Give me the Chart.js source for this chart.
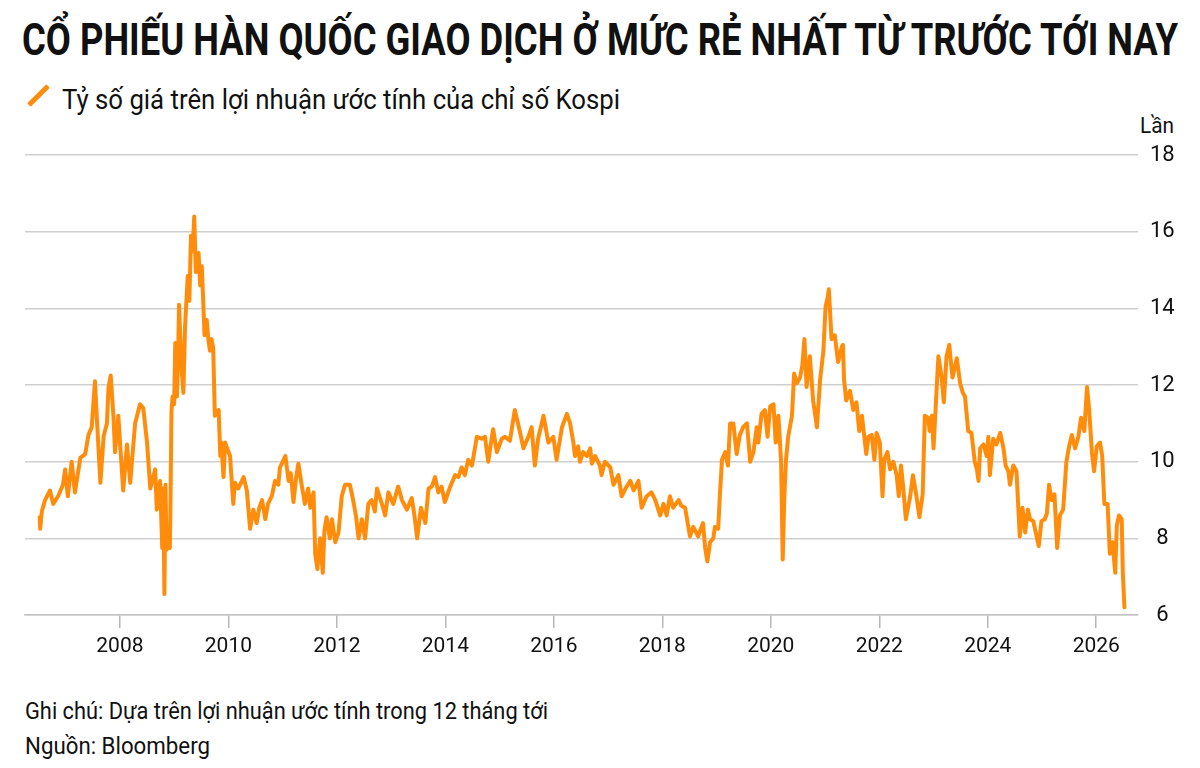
<!DOCTYPE html>
<html lang="vi">
<head>
<meta charset="utf-8">
<title>Kospi P/E</title>
<script src="https://cdn.jsdelivr.net/npm/chart.js@4.4.1/dist/chart.umd.min.js"></script>
<style>
  html, body { margin: 0; padding: 0; background: #fff; }
  body { width: 1200px; height: 768px; position: relative; overflow: hidden; font-family: Roboto, "Liberation Sans", sans-serif; color: #111; }
  .fit { position: absolute; white-space: nowrap; transform-origin: 0 0; line-height: 1; }
  #title { left: 22px; top: 18px; font-size: 44px; font-weight: 700; }
  #legend-text { left: 62px; top: 87px; font-size: 27px; }
  #legend-icon { position: absolute; left: 25px; top: 93px; width: 27px; height: 5px; background: #ff8c0a; transform: rotate(-45deg); border-radius: 1px; }
  #unit { left: 1140px; top: 115px; font-size: 22px; }
  #note { left: 25px; top: 700px; font-size: 23px; }
  #source { left: 25px; top: 735px; font-size: 23px; }
  #chart-wrap { position: absolute; left: 0; top: 130px; width: 1200px; height: 550px; }
</style>
</head>
<body>
<div id="title" class="fit" data-width="1156">CỔ PHIẾU HÀN QUỐC GIAO DỊCH Ở MỨC RẺ NHẤT TỪ TRƯỚC TỚI NAY</div>
<div id="legend-icon"></div>
<div id="legend-text" class="fit" data-width="558">Tỷ số giá trên lợi nhuận ước tính của chỉ số Kospi</div>
<div id="unit" class="fit" data-width="34">Lần</div>
<div id="chart-wrap"><canvas id="pe-chart" width="1200" height="550"></canvas></div>
<div id="note" class="fit" data-width="523">Ghi chú: Dựa trên lợi nhuận ước tính trong 12 tháng tới</div>
<div id="source" class="fit" data-width="185">Nguồn: Bloomberg</div>
<script>
// decimal years
const years = [
  2006.52, 2006.53, 2006.56, 2006.62, 2006.71, 2006.77, 2006.86, 2006.95, 2006.99, 2007.04,
  2007.11, 2007.17, 2007.27, 2007.36, 2007.42, 2007.48, 2007.54, 2007.58, 2007.64, 2007.70,
  2007.76, 2007.79, 2007.83, 2007.88, 2007.91, 2007.97, 2008.06, 2008.13, 2008.19, 2008.28,
  2008.37, 2008.43, 2008.50, 2008.56, 2008.65, 2008.68, 2008.74, 2008.78, 2008.80, 2008.82,
  2008.84, 2008.86, 2008.89, 2008.92, 2008.93, 2008.95, 2008.97, 2009.00, 2009.02, 2009.05,
  2009.07, 2009.09, 2009.13, 2009.17, 2009.20, 2009.25, 2009.28, 2009.31, 2009.34, 2009.37,
  2009.40, 2009.45, 2009.48, 2009.51, 2009.56, 2009.60, 2009.63, 2009.66, 2009.69, 2009.72,
  2009.75, 2009.82, 2009.85, 2009.87, 2009.91, 2009.94, 2009.99, 2010.03, 2010.09, 2010.12,
  2010.18, 2010.25, 2010.28, 2010.34, 2010.40, 2010.46, 2010.52, 2010.57, 2010.62, 2010.68,
  2010.73, 2010.80, 2010.86, 2010.92, 2010.95, 2011.05, 2011.11, 2011.15, 2011.20, 2011.25,
  2011.29, 2011.35, 2011.41, 2011.47, 2011.51, 2011.57, 2011.60, 2011.64, 2011.69, 2011.74,
  2011.77, 2011.81, 2011.87, 2011.91, 2011.97, 2012.03, 2012.09, 2012.15, 2012.24, 2012.30,
  2012.35, 2012.40, 2012.46, 2012.52, 2012.58, 2012.64, 2012.70, 2012.74, 2012.83, 2012.89,
  2012.95, 2013.04, 2013.13, 2013.20, 2013.29, 2013.38, 2013.43, 2013.48, 2013.55, 2013.63,
  2013.69, 2013.75, 2013.81, 2013.87, 2013.93, 2013.99, 2014.09, 2014.18, 2014.24, 2014.30,
  2014.36, 2014.42, 2014.49, 2014.58, 2014.67, 2014.73, 2014.79, 2014.88, 2014.95, 2015.04,
  2015.10, 2015.19, 2015.28, 2015.38, 2015.44, 2015.53, 2015.59, 2015.65, 2015.71, 2015.81,
  2015.90, 2015.99, 2016.05, 2016.15, 2016.24, 2016.30, 2016.36, 2016.39, 2016.45, 2016.48,
  2016.54, 2016.61, 2016.67, 2016.70, 2016.76, 2016.85, 2016.88, 2016.94, 2017.04, 2017.10,
  2017.19, 2017.25, 2017.34, 2017.41, 2017.47, 2017.56, 2017.62, 2017.71, 2017.80, 2017.87,
  2017.96, 2018.02, 2018.08, 2018.14, 2018.20, 2018.30, 2018.35, 2018.42, 2018.51, 2018.57,
  2018.66, 2018.75, 2018.79, 2018.83, 2018.88, 2018.94, 2018.97, 2019.03, 2019.06, 2019.10,
  2019.16, 2019.21, 2019.25, 2019.31, 2019.37, 2019.43, 2019.49, 2019.56, 2019.62, 2019.68,
  2019.74, 2019.77, 2019.83, 2019.89, 2019.94, 2019.99, 2020.05, 2020.09, 2020.14, 2020.19,
  2020.22, 2020.25, 2020.28, 2020.32, 2020.39, 2020.43, 2020.48, 2020.54, 2020.58, 2020.62,
  2020.66, 2020.72, 2020.78, 2020.85, 2020.91, 2020.97, 2021.01, 2021.05, 2021.07, 2021.12,
  2021.18, 2021.24, 2021.31, 2021.33, 2021.35, 2021.39, 2021.46, 2021.52, 2021.58, 2021.63,
  2021.68, 2021.76, 2021.80, 2021.86, 2021.91, 2021.95, 2022.01, 2022.06, 2022.09, 2022.15,
  2022.20, 2022.26, 2022.32, 2022.36, 2022.40, 2022.44, 2022.49, 2022.57, 2022.62, 2022.68,
  2022.74, 2022.80, 2022.84, 2022.90, 2022.93, 2022.97, 2023.00, 2023.05, 2023.09, 2023.15,
  2023.19, 2023.24, 2023.29, 2023.35, 2023.43, 2023.49, 2023.54, 2023.58, 2023.64, 2023.70,
  2023.76, 2023.80, 2023.83, 2023.86, 2023.92, 2023.98, 2024.01, 2024.04, 2024.10, 2024.16,
  2024.23, 2024.29, 2024.33, 2024.38, 2024.41, 2024.47, 2024.53, 2024.56, 2024.59, 2024.64,
  2024.69, 2024.74, 2024.78, 2024.84, 2024.90, 2024.94, 2024.99, 2025.05, 2025.09, 2025.13,
  2025.18, 2025.23, 2025.28, 2025.33, 2025.39, 2025.45, 2025.50, 2025.55, 2025.61, 2025.67,
  2025.72, 2025.78, 2025.83, 2025.87, 2025.92, 2025.96, 2026.01, 2026.07, 2026.11, 2026.15,
  2026.21, 2026.25, 2026.30, 2026.35, 2026.38, 2026.42, 2026.47, 2026.49, 2026.52
];

// forward P/E of the Kospi, times
const peRatio = [
  8.55, 8.25, 8.7, 9.0, 9.25, 8.9, 9.1, 9.4, 9.8, 9.1,
  10.0, 9.2, 10.1, 10.2, 10.7, 10.9, 12.1, 11.0, 9.45, 10.67,
  11.0, 11.95, 12.25, 11.2, 10.25, 11.2, 9.25, 10.45, 9.45, 11.0,
  11.5, 11.4, 10.5, 9.3, 9.8, 8.75, 9.5, 7.75, 9.3, 6.55,
  9.4, 7.7, 8.0, 7.75, 8.6, 11.3, 11.7, 11.5, 13.1, 11.7,
  12.5, 14.1, 12.6, 11.8, 13.5, 14.85, 14.2, 15.9, 15.5, 16.4,
  14.95, 15.45, 14.6, 15.1, 13.3, 13.7, 13.2, 12.9, 13.2, 12.95,
  11.2, 11.35, 10.15, 10.5, 9.6, 10.5, 10.3, 10.15, 8.9, 9.45,
  9.3, 9.5, 9.6, 9.25, 8.25, 8.75, 8.4, 8.8, 9.0, 8.5,
  8.9, 9.1, 9.5, 9.4, 9.85, 10.15, 9.5, 9.7, 8.95, 9.6,
  9.95, 9.4, 8.9, 9.3, 8.8, 9.2, 7.6, 7.2, 8.0, 7.1,
  8.2, 8.55, 8.0, 8.5, 7.9, 8.15, 9.1, 9.4, 9.4, 9.0,
  8.6, 8.0, 8.5, 8.0, 8.9, 9.0, 8.7, 9.3, 8.9, 8.6,
  9.2, 8.9, 9.35, 9.0, 8.75, 9.05, 8.6, 8.0, 8.8, 8.4,
  9.3, 9.35, 9.6, 9.2, 9.35, 8.95, 9.35, 9.65, 9.6, 9.85,
  9.65, 10.05, 9.9, 10.65, 10.6, 10.65, 10.0, 10.85, 10.25, 10.6,
  10.65, 10.55, 11.35, 10.75, 10.35, 10.65, 10.9, 9.9, 10.6, 11.2,
  10.5, 10.65, 10.05, 10.9, 11.25, 11.0, 10.5, 10.15, 10.4, 10.0,
  10.25, 10.15, 10.35, 9.95, 10.15, 9.9, 9.65, 10.0, 9.85, 9.4,
  9.65, 9.1, 9.35, 9.5, 9.25, 9.5, 8.8, 9.1, 9.2, 9.0,
  8.6, 8.9, 8.6, 9.1, 8.8, 9.0, 8.85, 8.8, 8.05, 8.3,
  8.05, 8.4, 7.75, 7.4, 7.9, 8.0, 8.3, 8.25, 9.1, 10.05,
  10.25, 9.9, 11.0, 11.0, 10.2, 10.7, 10.9, 11.0, 10.0, 10.25,
  10.9, 10.5, 11.25, 11.35, 10.65, 11.45, 11.5, 10.5, 11.2, 10.0,
  7.45, 9.1, 10.05, 10.65, 11.2, 12.3, 12.05, 12.2, 12.5, 13.2,
  11.95, 12.75, 11.6, 10.9, 12.15, 12.9, 14.05, 14.3, 14.5, 13.2,
  13.3, 12.6, 13.0, 13.05, 12.15, 11.6, 11.85, 11.35, 11.55, 10.8,
  11.2, 10.2, 10.65, 10.7, 10.05, 10.75, 10.5, 9.1, 10.05, 10.25,
  9.8, 10.0, 9.65, 9.1, 9.9, 9.35, 8.5, 9.1, 9.65, 9.15,
  8.55, 9.15, 11.2, 11.15, 10.8, 11.2, 10.35, 11.7, 12.75, 12.2,
  11.55, 12.75, 13.05, 12.2, 12.7, 12.05, 11.8, 11.7, 10.8, 10.75,
  10.0, 9.8, 9.5, 10.35, 10.45, 10.15, 10.65, 9.65, 10.6, 10.45,
  10.75, 10.35, 9.9, 9.75, 9.4, 9.9, 9.75, 8.9, 8.05, 8.8,
  8.15, 8.75, 8.5, 8.45, 8.05, 7.8, 8.45, 8.5, 8.65, 9.4,
  9.0, 9.15, 7.75, 8.6, 8.75, 10.0, 10.4, 10.7, 10.35, 10.65,
  11.15, 10.8, 11.95, 11.35, 10.25, 9.75, 10.4, 10.5, 10.15, 8.9,
  8.9, 7.6, 7.9, 7.1, 8.35, 8.6, 8.5, 7.1, 6.2
];

const yearTicks = [2008, 2010, 2012, 2014, 2016, 2018, 2020, 2022, 2024, 2026];
const valueTicks = [6, 8, 10, 12, 14, 16, 18];

const lineColor = "#ff8c0a";
const tickFont = { family: "Roboto", size: 21 };

function fitTexts() {
  document.querySelectorAll(".fit").forEach((el) => {
    const target = Number(el.dataset.width);
    const natural = el.getBoundingClientRect().width;
    if (natural > 0) {
      el.style.transform = `scaleX(${target / natural})`;
    }
  });
}

function drawChart() {
  const canvas = document.querySelector("#pe-chart");
  new Chart(canvas, {
    type: "line",
    data: {
      datasets: [
        {
          label: "Tỷ số giá trên lợi nhuận ước tính của chỉ số Kospi",
          data: years.map((x, i) => ({ x, y: peRatio[i] })),
          borderColor: lineColor,
          borderWidth: 4,
          borderJoinStyle: "round",
          borderCapStyle: "round",
          pointRadius: 0,
          tension: 0,
          fill: false,
        },
      ],
    },
    options: {
      responsive: false,
      animation: false,
      layout: { padding: { left: 25, top: 22, right: 0, bottom: 0 } },
      plugins: { legend: { display: false }, tooltip: { enabled: false } },
      scales: {
        x: {
          type: "linear",
          min: 2006.25,
          max: 2026.77,
          afterBuildTicks: (axis) => {
            axis.ticks = yearTicks.map((value) => ({ value }));
          },
          afterFit: (axis) => {
            axis.height = 65;
          },
          grid: { drawOnChartArea: false, drawTicks: true, tickLength: 13, color: "#b8b8b8", lineWidth: 1.5 },
          border: { display: true, color: "#c4c4c4", width: 1.5 },
          ticks: {
            font: tickFont,
            color: "#111",
            padding: 6,
            maxRotation: 0,
            autoSkip: false,
            callback: (value) => String(value),
          },
        },
        y: {
          position: "right",
          min: 6,
          max: 18,
          afterBuildTicks: (axis) => {
            axis.ticks = valueTicks.map((value) => ({ value }));
          },
          afterFit: (axis) => {
            axis.width = 62;
          },
          grid: { color: "#cfcfcf", lineWidth: 1.5, drawTicks: false },
          border: { display: false },
          ticks: {
            font: { family: "Roboto", size: 22 },
            color: "#111",
            padding: 12,
            crossAlign: "center",
          },
        },
      },
    },
  });
}

document.fonts.ready.then(() => {
  fitTexts();
  drawChart();
});
</script>
</body>
</html>
